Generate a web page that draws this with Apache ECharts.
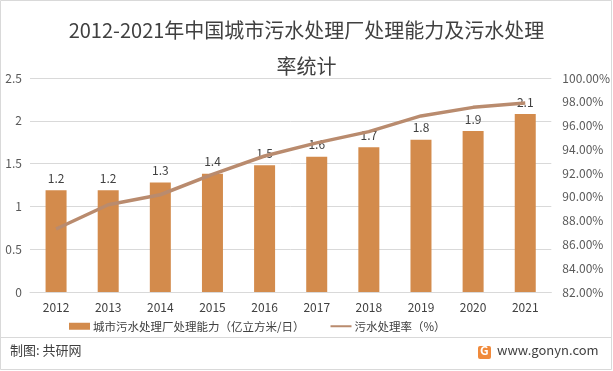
<!DOCTYPE html>
<html><head><meta charset="utf-8">
<script src="https://cdn.jsdelivr.net/npm/echarts@6/dist/echarts.min.js"></script>
<style>html,body{margin:0;padding:0;background:#fff}#c{width:613px;height:371px}</style>
</head><body><div id="c"></div>
<script>
const years = ['2012','2013','2014','2015','2016','2017','2018','2019','2020','2021'];
const capacity = [1.19,1.19,1.28,1.38,1.48,1.58,1.69,1.78,1.88,2.08];
const rate = [87.3,89.34,90.18,91.9,93.44,94.54,95.49,96.81,97.53,97.89];
const leftTicks = {min:0,max:2.5,interval:0.5};
const rightTicks = {min:82,max:100,interval:2};
const F = '"Noto Sans CJK SC","Noto Sans",sans-serif';
const chart = echarts.init(document.getElementById('c'));
chart.setOption({
  animation:false,
  textStyle:{fontFamily:F},
  title:{text:'2012-2021年中国城市污水处理厂处理能力及污水处理\n率统计',left:'center',top:7,
    textStyle:{fontSize:20,fontWeight:'normal',color:'#404040',lineHeight:36,fontFamily:F}},
  grid:{left:30,right:61,top:78,bottom:79},
  legend:{bottom:34,left:64,itemGap:25,itemWidth:21,itemHeight:7,
    textStyle:{fontSize:11.5,color:'#404040',fontFamily:F,padding:[0,0,0,-2]},
    data:[{name:'城市污水处理厂处理能力（亿立方米/日）',icon:'rect'},
          {name:'污水处理率（%）',itemStyle:{opacity:0}}]},
  xAxis:{type:'category',data:years,
    axisLine:{lineStyle:{color:'#d9d9d9'}},axisTick:{show:false},
    axisLabel:{color:'#404040',fontSize:12,margin:9}},
  yAxis:[
    {type:'value',min:leftTicks.min,max:leftTicks.max,interval:leftTicks.interval,
     axisLabel:{color:'#595959',fontSize:12,margin:8},
     splitLine:{lineStyle:{color:'#d9d9d9'}},axisLine:{show:false},axisTick:{show:false}},
    {type:'value',min:rightTicks.min,max:rightTicks.max,interval:rightTicks.interval,
     axisLabel:{color:'#595959',fontSize:12,margin:11,formatter:v=>v.toFixed(2)+'%'},
     splitLine:{show:false},axisLine:{show:false},axisTick:{show:false}}
  ],
  series:[
    {name:'城市污水处理厂处理能力（亿立方米/日）',type:'bar',data:capacity,barWidth:21,
     itemStyle:{color:'#D38B4C'},
     label:{show:true,position:'top',distance:6,color:'#404040',fontSize:12,formatter:p=>p.value.toFixed(1)}},
    {name:'污水处理率（%）',type:'line',yAxisIndex:1,data:rate,symbol:'none',
     lineStyle:{color:'#B98B6E',width:3.5},itemStyle:{color:'#B98B6E'}}
  ],
  graphic:[
    {type:'rect',shape:{x:0.5,y:0.5,width:611,height:369},style:{fill:'none',stroke:'#d9d9d9',lineWidth:1}},
    {type:'line',shape:{x1:1,y1:337.5,x2:611,y2:337.5},style:{stroke:'#d9d9d9',lineWidth:1}},
    {type:'text',left:10,top:344,style:{text:'制图: 共研网',fontSize:13,fill:'#404040',fontFamily:F}},
    {type:'rect',shape:{x:478,y:346,width:13,height:13,r:2},style:{fill:'#F08A3C'}},
    {type:'text',left:480,top:344,style:{text:'G',fontSize:12,fontWeight:'bold',fill:'#fff',fontFamily:F}},
    {type:'text',left:497,top:344,style:{text:'www.gonyn.com',fontSize:13,fill:'#404040',fontFamily:F}}
  ]
});
</script></body></html>
